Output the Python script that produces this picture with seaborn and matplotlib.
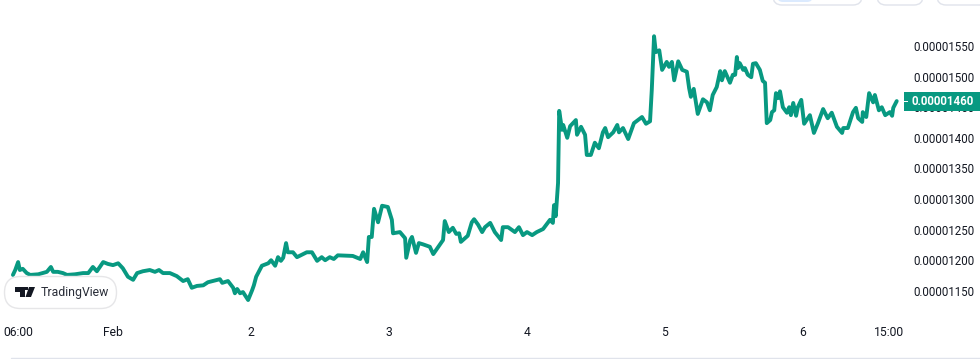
import matplotlib
matplotlib.use('Agg')
import matplotlib.pyplot as plt
import seaborn as sns
import pandas as pd
from matplotlib.patches import FancyBboxPatch, Polygon, Rectangle

# hours since Feb 1 00:00, price in units of 1e-8
hours = [-17.4, -17.0, -16.5, -16.2, -15.7, -15.0, -14.4, -13.0, -11.5, -10.8, -10.4, -9.6, -8.7, -8.0, -6.6, -5.2, -4.3, -3.5, -2.8, -1.7,
         -0.9, 0, 0.9, 1.7, 2.6, 3.5, 4.2, 5.2, 6.4, 7.3, 8.0, 8.7, 9.9, 11.1, 12.2, 13.0, 13.7, 14.6, 15.7, 16.5,
         18.6, 19.0, 20.0, 20.9, 21.2, 21.6, 22.1, 22.6, 23.5, 24.2, 24.5, 24.9, 25.9, 27.0, 27.5, 28.2, 28.7, 29.2, 29.6, 30.1,
         30.4, 31.3, 32.0, 33.7, 34.6, 35.5, 36.3, 36.9, 37.7, 38.4, 39.1, 41.7, 43.0, 43.5, 44.2, 44.5, 45.0, 45.4, 46.1, 46.8,
         47.8, 48.5, 48.7, 49.9, 50.8, 51.0, 51.7, 52.0, 52.7, 53.2, 53.9, 55.1, 55.7, 57.4, 57.7, 58.4, 59.1, 59.7, 60.2, 60.5,
         61.7, 62.4, 62.8, 63.5, 64.2, 64.7, 65.6, 66.4, 67.5, 67.8, 68.7, 69.9, 70.6, 71.3, 72.0, 72.9, 73.7, 74.8, 76.0, 76.5,
         76.7, 77.0, 77.4, 77.6, 78.1, 78.3, 79.0, 79.5, 80.5, 80.7, 81.4, 82.1, 82.4, 83.1, 83.8, 84.5, 85.2, 85.6, 86.1, 87.0,
         87.7, 88.0, 88.7, 89.6, 90.6, 91.3, 92.0, 92.7, 93.4, 93.7, 94.1, 94.4, 95.0, 95.5, 96.3, 96.7, 97.2, 97.6, 98.3, 99.0,
         99.8, 100.2, 100.5, 101.0, 101.7, 102.6, 103.3, 103.8, 104.3, 105.0, 105.6, 105.9, 106.4, 107.3, 107.8, 108.2, 108.5, 108.7, 109.0, 109.6,
         109.9, 110.4, 111.0, 111.3, 111.8, 112.5, 113.0, 113.4, 113.7, 114.3, 114.6, 115.0, 115.3, 115.7, 116.0, 116.5, 117.2, 117.6, 117.9, 118.3,
         118.8, 119.1, 119.7, 120.2, 121.2, 121.9, 122.6, 123.5, 124.3, 125.0, 125.9, 126.8, 127.0, 127.8, 128.7, 129.2, 129.6, 130.3, 130.4, 131.0,
         131.5, 132.2, 132.5, 133.2, 133.7, 134.3, 135.1, 135.5, 135.7, 136.3]
price = [1176, 1184, 1197, 1184, 1186, 1179, 1176, 1177, 1181, 1189, 1181, 1181, 1179, 1176, 1177, 1179, 1179, 1189, 1182, 1197,
         1194, 1192, 1195, 1187, 1173, 1168, 1179, 1182, 1184, 1181, 1184, 1179, 1179, 1174, 1166, 1169, 1155, 1158, 1159, 1164,
         1169, 1163, 1166, 1155, 1146, 1153, 1146, 1148, 1135, 1151, 1159, 1173, 1191, 1195, 1200, 1191, 1205, 1199, 1204, 1228,
         1213, 1213, 1205, 1213, 1213, 1199, 1205, 1200, 1205, 1202, 1208, 1207, 1202, 1213, 1197, 1238, 1238, 1284, 1262, 1289,
         1287, 1266, 1244, 1246, 1236, 1204, 1233, 1238, 1212, 1228, 1226, 1222, 1210, 1233, 1264, 1246, 1253, 1243, 1244, 1230,
         1240, 1262, 1267, 1258, 1246, 1254, 1261, 1246, 1233, 1254, 1254, 1246, 1254, 1241, 1246, 1241, 1246, 1251, 1266, 1261,
         1290, 1272, 1326, 1444, 1413, 1421, 1400, 1419, 1429, 1405, 1418, 1405, 1372, 1372, 1392, 1383, 1409, 1416, 1401, 1409,
         1421, 1409, 1416, 1398, 1424, 1429, 1434, 1423, 1427, 1478, 1566, 1540, 1543, 1511, 1524, 1516, 1524, 1494, 1525, 1511,
         1508, 1481, 1467, 1480, 1439, 1463, 1458, 1445, 1470, 1483, 1509, 1494, 1509, 1490, 1503, 1503, 1532, 1514, 1522, 1511,
         1514, 1503, 1499, 1521, 1522, 1511, 1493, 1490, 1424, 1429, 1442, 1445, 1473, 1465, 1476, 1450, 1441, 1450, 1437, 1457,
         1436, 1450, 1462, 1423, 1437, 1408, 1424, 1447, 1432, 1441, 1418, 1408, 1416, 1416, 1442, 1449, 1432, 1426, 1442, 1434,
         1473, 1458, 1470, 1445, 1450, 1437, 1442, 1436, 1449, 1460]

x_ticks = [-16.5, 0, 24, 48, 72, 96, 120, 135]
x_labels = ['06:00', 'Feb', '2', '3', '4', '5', '6', '15:00']
y_ticks = [1150, 1200, 1250, 1300, 1350, 1400, 1450, 1500, 1550]
y_labels = ['0.00001150', '0.00001200', '0.00001250', '0.00001300', '0.00001350', '0.00001400', '0.00001450', '0.00001500', '0.00001550']
last_label = '0.00001460'

green = '#089981'
W, H = 980, 359

sns.set_style('white')
plt.rcParams['font.family'] = ['Roboto', 'DejaVu Sans']

df = pd.DataFrame({'hours': hours, 'price': price})

fig = plt.figure(figsize=(W / 100, H / 100), dpi=100)
ax = fig.add_axes([0, 44 / H, 905 / W, 315 / H])
sns.lineplot(data=df, x='hours', y='price', color=green, lw=2.8, estimator=None, sort=False, ax=ax)
ax.lines[0].set_solid_joinstyle('round')
ax.set_xlim(-19.65, 137.74)
ax.set_ylim(1110.5, 1625.2)
ax.set_xlabel('')
ax.set_ylabel('')
sns.despine(ax=ax, left=True, bottom=True)
ax.yaxis.tick_right()
ax.set_xticks(x_ticks)
ax.set_xticklabels(x_labels, fontsize=8.7, color='#131722')
ax.set_yticks(y_ticks)
ax.set_yticklabels(y_labels, fontsize=8.3, color='#131722')
ax.tick_params(axis='x', length=0, pad=8)
ax.tick_params(axis='y', length=0, pad=5.8)

# overlay in pixel coords: logo pill, price badge, top buttons
ov = fig.add_axes([0, 0, 1, 1], zorder=5)
ov.set_xlim(0, W)
ov.set_ylim(H, 0)
ov.axis('off')
ov.patch.set_alpha(0)

ov.add_patch(FancyBboxPatch((4.5, 276.5), 112, 32, boxstyle='round,pad=0,rounding_size=16',
                            fc='white', ec='#e6e6e8', lw=1))
ov.add_patch(Polygon([(15, 287), (25, 287), (25, 297), (20, 297), (20, 292), (15, 292)], fc='#131722', ec='none'))
ov.add_patch(Polygon([(29, 287), (35, 287), (31, 297), (25.5, 297)], fc='#131722', ec='none'))
ov.add_patch(Rectangle((25, 287), 3, 3, fc='#131722', ec='none'))
ov.text(41, 292.5, 'TradingView', fontsize=8.8, color='#2a2e39', va='center', ha='left')

ov.add_patch(Rectangle((904, 92), 76, 19, fc=green, ec='none'))
ov.add_patch(Rectangle((904, 101), 4, 1, fc='white', ec='none'))
ov.text(943, 101.5, last_label, fontsize=8.3, color='white', fontweight='bold', va='center', ha='center')

ov.add_patch(FancyBboxPatch((773, -20), 89, 25, boxstyle='round,pad=0,rounding_size=9', fc='white', ec='#e0e3eb', lw=1))
ov.add_patch(FancyBboxPatch((777, -20), 36, 22, boxstyle='round,pad=0,rounding_size=6', fc='#dbeafe', ec='none'))
ov.add_patch(FancyBboxPatch((877, -20), 46, 25, boxstyle='round,pad=0,rounding_size=9', fc='white', ec='#e0e3eb', lw=1))
ov.add_patch(FancyBboxPatch((937, -20), 60, 25, boxstyle='round,pad=0,rounding_size=9', fc='white', ec='#e0e3eb', lw=1))

# bottom rule
ov.plot([11, 980], [358, 358], color='#e0e3eb', lw=1)

fig.savefig('out.png', dpi=100, facecolor='white')
